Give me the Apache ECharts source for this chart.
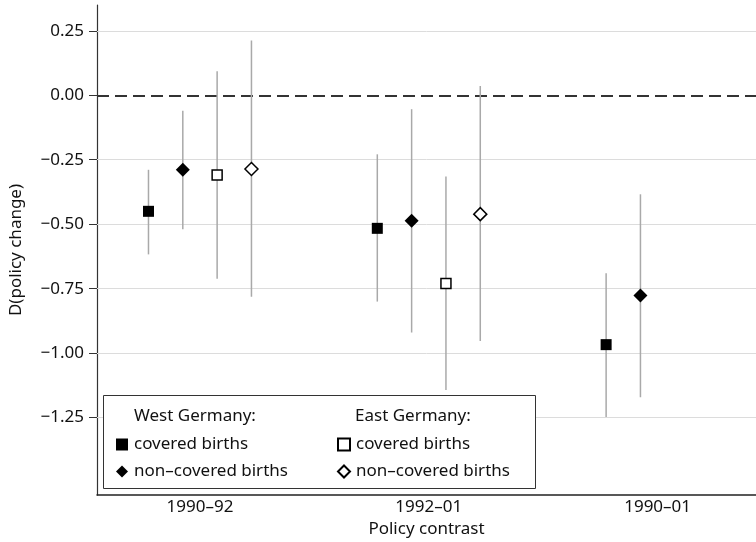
<!DOCTYPE html>
<html>
<head>
<meta charset="utf-8">
<script src="https://cdn.jsdelivr.net/npm/echarts@6/dist/echarts.min.js"></script>
<style>html,body{margin:0;padding:0;background:#fff;}#c{width:756px;height:542px;}</style>
</head>
<body>
<div id="c"></div>
<script>
// ---- data ----
const categories = ['1990–92', '1992–01', '1990–01'];
const westCovered    = [-0.450, -0.516, -0.967];
const westCoveredLo  = [-0.617, -0.800, -1.248];
const westCoveredHi  = [-0.289, -0.229, -0.690];
const westNonCov     = [-0.289, -0.487, -0.776];
const westNonCovLo   = [-0.520, -0.920, -1.171];
const westNonCovHi   = [-0.060, -0.054, -0.384];
const eastCovered    = [-0.309, -0.730, null];
const eastCoveredLo  = [-0.711, -1.143, null];
const eastCoveredHi  = [ 0.093, -0.315, null];
const eastNonCov     = [-0.286, -0.461, null];
const eastNonCovLo   = [-0.781, -0.953, null];
const eastNonCovHi   = [ 0.212,  0.036, null];
const yTicks = [0.25, 0, -0.25, -0.5, -0.75, -1, -1.25];
const gridValues = [0.25, -0.25, -0.5, -0.75, -1, -1.25];

// ---- build ----
const FONT = 'Noto Sans';
const FS = 17;
const TXT = '#111';
const dodge = 0.15;
const groups = [
  {name: 'West Germany: covered births', v: westCovered, lo: westCoveredLo, hi: westCoveredHi, k: -1.5,
   symbol: 'rect', size: 11, style: {color: '#000', opacity: 1}},
  {name: 'West Germany: non–covered births', v: westNonCov, lo: westNonCovLo, hi: westNonCovHi, k: -0.5,
   symbol: 'diamond', size: 14, style: {color: '#000', opacity: 1}},
  {name: 'East Germany: covered births', v: eastCovered, lo: eastCoveredLo, hi: eastCoveredHi, k: 0.5,
   symbol: 'rect', size: 10, style: {color: '#fff', borderColor: '#000', borderWidth: 1.5, opacity: 1}},
  {name: 'East Germany: non–covered births', v: eastNonCov, lo: eastNonCovLo, hi: eastNonCovHi, k: 1.5,
   symbol: 'diamond', size: 13, style: {color: '#fff', borderColor: '#000', borderWidth: 1.5, opacity: 1}}
];

const series = [];
groups.forEach((g, gi) => {
  const pts = [], bars = [];
  categories.forEach((c, i) => {
    if (g.v[i] == null) return;
    const x = i + 1 + g.k * dodge;
    pts.push([x, g.v[i]]);
    bars.push([x, g.lo[i], g.hi[i]]);
  });
  series.push({
    type: 'custom', name: g.name + ' CI', z: 2, silent: true,
    data: bars,
    encode: {x: 0, y: [1, 2]},
    renderItem: (params, api) => {
      const a = api.coord([api.value(0), api.value(1)]);
      const b = api.coord([api.value(0), api.value(2)]);
      return {type: 'line', shape: {x1: a[0], y1: a[1], x2: b[0], y2: b[1]},
              style: {stroke: '#a9a9a9', lineWidth: 1.5}};
    }
  });
  const s = {
    type: 'scatter', name: g.name, z: 4, data: pts,
    symbol: g.symbol, symbolSize: g.size, symbolKeepAspect: true,
    itemStyle: g.style, emphasis: {disabled: true}
  };
  if (gi === 0) {
    s.markLine = {
      silent: true, symbol: 'none', z: 1, label: {show: false},
      data: gridValues.map(v => ({yAxis: v, lineStyle: {color: '#dcdcdc', width: 1, type: 'solid'}}))
        .concat([{yAxis: 0, lineStyle: {color: '#333', width: 2, type: [12, 6]}}])
    };
  }
  series.push(s);
});

const fmtY = v => (v < 0 ? '−' + Math.abs(v).toFixed(2) : v.toFixed(2));
const legendFmt = n => n.replace(/^(West|East) Germany: /, '');
const legendCommon = {
  orient: 'vertical', z: 100, top: 431, itemWidth: 12, itemHeight: 12, itemGap: 10,
  formatter: legendFmt, selectedMode: false, symbolKeepAspect: true,
  textStyle: {fontFamily: FONT, fontSize: FS, color: TXT, padding: [0, 0, 0, 1]}
};

const chart = echarts.init(document.getElementById('c'), null, {renderer: 'canvas'});
chart.setOption({
  animation: false,
  backgroundColor: '#fff',
  textStyle: {fontFamily: FONT},
  grid: {left: 97, right: 0, top: 5, bottom: 47, containLabel: false, outerBoundsMode: 'none'},
  xAxis: {
    type: 'value', min: 0.55, max: 3.43,
    name: 'Policy contrast', nameLocation: 'middle', nameGap: 24,
    nameTextStyle: {fontFamily: FONT, fontSize: FS, color: TXT},
    axisLine: {show: true, onZero: false, lineStyle: {color: '#222', width: 1.5}},
    axisTick: {show: false},
    splitLine: {show: false},
    axisLabel: {customValues: [1, 2, 3], formatter: v => categories[Math.round(v) - 1] || '',
      fontFamily: FONT, fontSize: FS, color: TXT, margin: 4}
  },
  yAxis: {
    type: 'value', min: -1.55, max: 0.35,
    name: 'D(policy change)', nameLocation: 'middle', nameGap: 72, nameRotate: 90,
    nameTextStyle: {fontFamily: FONT, fontSize: FS, color: TXT},
    axisLine: {show: true, onZero: false, lineStyle: {color: '#333', width: 1.2}},
    axisTick: {show: true, length: 8, customValues: yTicks, lineStyle: {color: '#333', width: 1}},
    splitLine: {show: false},
    axisLabel: {customValues: yTicks, formatter: fmtY, fontFamily: FONT, fontSize: FS,
      color: TXT, margin: 13}
  },
  legend: [
    Object.assign({left: 111, data: [groups[0].name, groups[1].name]}, legendCommon),
    Object.assign({left: 332, data: [groups[2].name, groups[3].name]}, legendCommon)
  ],
  graphic: [
    {type: 'rect', z: 50, shape: {x: 103.5, y: 395.5, width: 432, height: 93},
     style: {fill: '#fff', stroke: '#333', lineWidth: 1}},
    {type: 'text', z: 51, left: 134, top: 408,
     style: {text: 'West Germany:', font: FS + 'px "Noto Sans"', fill: TXT}},
    {type: 'text', z: 51, left: 355, top: 408,
     style: {text: 'East Germany:', font: FS + 'px "Noto Sans"', fill: TXT}}
  ],
  series: series
});
</script>
</body>
</html>
